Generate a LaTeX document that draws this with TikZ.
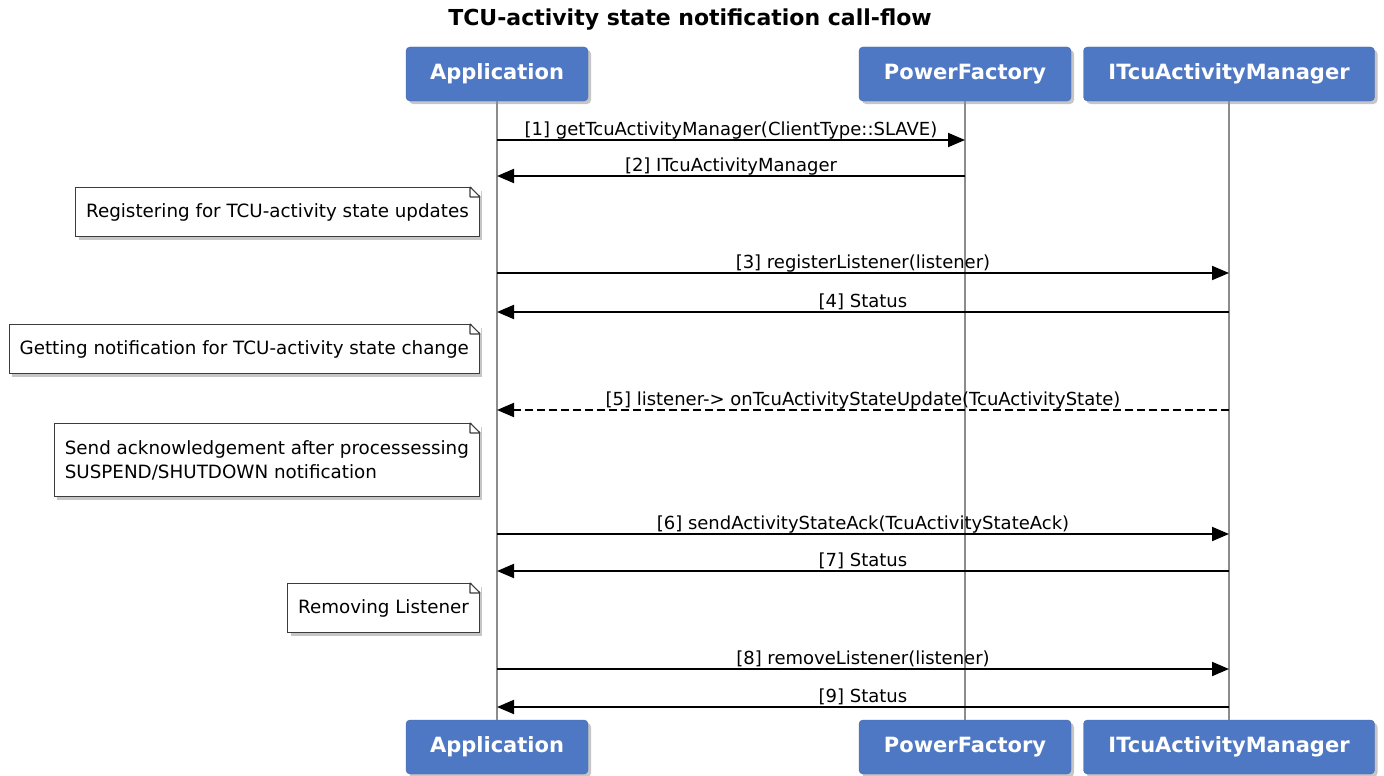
\documentclass[tikz,border=0pt]{standalone}
\usepackage{fontspec}
\setmainfont{DejaVu Sans}
\definecolor{myblue}{HTML}{4F78C4}
\definecolor{lifegray}{HTML}{8C8C8C}
\definecolor{notegray}{HTML}{3C3C3C}
\usetikzlibrary{positioning, shadows, arrows.meta}
\tikzset{
	actornode/.style={
			rounded corners=4pt,
			draw=myblue!85!black,
			fill=myblue,
			text=white,
			font=\fontsize{21}{25}\selectfont\bfseries,
			minimum height=54pt,
			inner sep=0pt,
			drop shadow={shadow xshift=3pt, shadow yshift=-3pt, opacity=0.45}
		},
	lifeline/.style={
			draw=lifegray,
			line width=1.5pt
		},
	notenode/.style={
			rectangle,
			draw=notegray,
			fill=white,
			line width=1.2pt,
			font=\fontsize{18.3}{24}\selectfont,
			align=left,
			inner xsep=10.5pt,
			minimum height=49pt,
			anchor=east,
			drop shadow={shadow xshift=3pt, shadow yshift=-3pt, opacity=0.45}
		},
	callline/.style={
			line width=2pt,
			-{Triangle[length=17pt, width=14pt]}
		},
	replyline/.style={
			callline,
			dash pattern=on 8pt off 4pt
		},
	msglabel/.style={
			font=\fontsize{18}{22}\selectfont,
			anchor=base,
			yshift=5pt,
			inner sep=0pt
		},
	titlenode/.style={
			font=\fontsize{22}{26}\selectfont\bfseries
		}
}
\newcommand{\foldnote}[1]{%
	\fill[white] ([xshift=-10pt, yshift=1pt]#1.north east) -- ([xshift=1pt, yshift=1pt]#1.north east) -- ([xshift=1pt, yshift=-10pt]#1.north east) -- cycle;
	\draw[notegray, line width=1.2pt, line join=bevel] ([xshift=-10pt]#1.north east) -- ([yshift=-10pt]#1.north east)
		([xshift=-10pt]#1.north east) |- ([yshift=-10pt]#1.north east);
}

\begin{document}
\begin{tikzpicture}[x=1pt, y=-1pt]
\useasboundingbox (0,0) rectangle (1384,776);

\node[titlenode] (title) at (690,20) {TCU-activity state notification call-flow};

\node[actornode, minimum width=182pt] (app) at (497,74) {Application};
\node[actornode, minimum width=212pt] (pf) at (965,74) {PowerFactory};
\node[actornode, minimum width=291pt] (mgr) at (1229,74) {ITcuActivityManager};
\node[actornode, minimum width=182pt] (appB) at (497,747) {Application};
\node[actornode, minimum width=212pt] (pfB) at (965,747) {PowerFactory};
\node[actornode, minimum width=291pt] (mgrB) at (1229,747) {ITcuActivityManager};

\draw[lifeline] (app) -- (appB);
\draw[lifeline] (pf) -- (pfB);
\draw[lifeline] (mgr) -- (mgrB);

\node[notenode] (note1) at (480,212) {Registering for TCU-activity state updates};
\node[notenode] (note2) at (480,349) {Getting notification for TCU-activity state change};
\node[notenode, minimum height=73pt] (note3) at (480,460) {Send acknowledgement after processessing\\SUSPEND/SHUTDOWN notification};
\node[notenode] (note4) at (480,608) {Removing Listener};
\foldnote{note1}
\foldnote{note2}
\foldnote{note3}
\foldnote{note4}

\coordinate (a1) at (497,140);
\coordinate (p1) at (965,140);
\coordinate (a2) at (497,176);
\coordinate (p2) at (965,176);
\coordinate (a3) at (497,273);
\coordinate (m3) at (1229,273);
\coordinate (a4) at (497,312);
\coordinate (m4) at (1229,312);
\coordinate (a5) at (497,410);
\coordinate (m5) at (1229,410);
\coordinate (a6) at (497,534);
\coordinate (m6) at (1229,534);
\coordinate (a7) at (497,571);
\coordinate (m7) at (1229,571);
\coordinate (a8) at (497,669);
\coordinate (m8) at (1229,669);
\coordinate (a9) at (497,707);
\coordinate (m9) at (1229,707);

\draw[callline] (a1) -- node[msglabel] {[1] getTcuActivityManager(ClientType::SLAVE)} (p1);
\draw[callline] (p2) -- node[msglabel] {[2] ITcuActivityManager} (a2);
\draw[callline] (a3) -- node[msglabel] {[3] registerListener(listener)} (m3);
\draw[callline] (m4) -- node[msglabel] {[4] Status} (a4);
\draw[replyline] (m5) -- node[msglabel] {[5] listener-> onTcuActivityStateUpdate(TcuActivityState)} (a5);
\draw[callline] (a6) -- node[msglabel] {[6] sendActivityStateAck(TcuActivityStateAck)} (m6);
\draw[callline] (m7) -- node[msglabel] {[7] Status} (a7);
\draw[callline] (a8) -- node[msglabel] {[8] removeListener(listener)} (m8);
\draw[callline] (m9) -- node[msglabel] {[9] Status} (a9);
\end{tikzpicture}
\end{document}
